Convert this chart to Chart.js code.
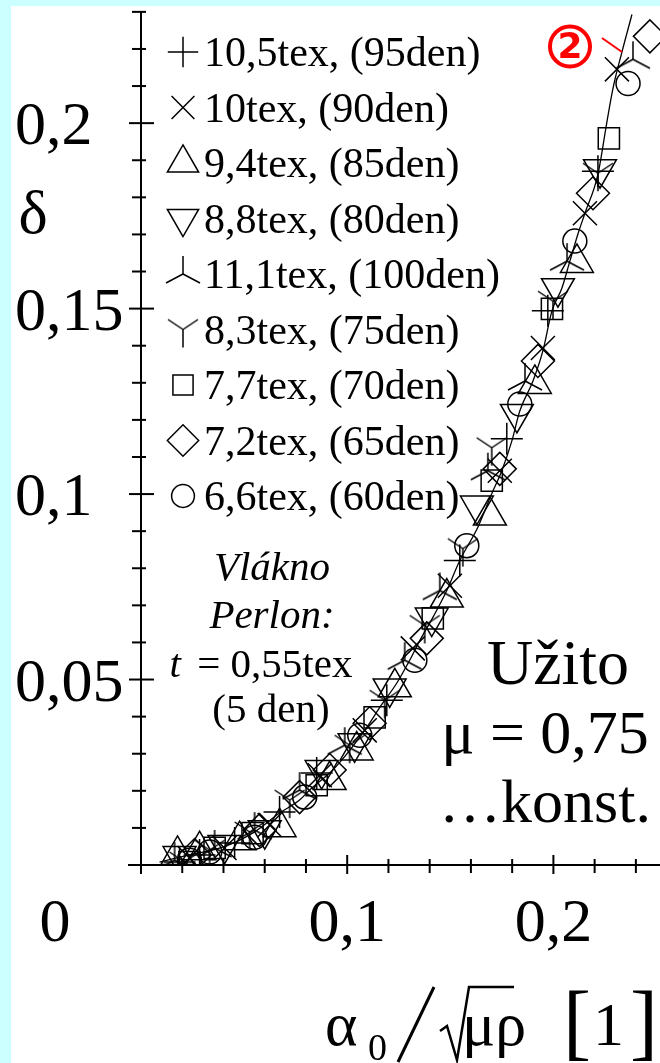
<!DOCTYPE html>
<html>
<head>
<meta charset="utf-8">
<script src="https://cdn.jsdelivr.net/npm/chart.js@4.4.0/dist/chart.umd.min.js"></script>
<style>
  html, body { margin: 0; padding: 0; background: #ccffff; }
  canvas { display: block; }
</style>
</head>
<body>
<canvas id="chart" width="660" height="1063"></canvas>
<script>
// Series names (yarn count)
const seriesLabels = ['10,5tex, (95den)', '10tex, (90den)', '9,4tex, (85den)', '8,8tex, (80den)',
  '11,1tex, (100den)', '8,3tex, (75den)', '7,7tex, (70den)', '7,2tex, (65den)', '6,6tex, (60den)'];

// x = alpha0 / sqrt(mu*rho), y = delta
const tex105X = [0.0187, 0.0284, 0.0454, 0.0672, 0.0852, 0.1192, 0.1546, 0.1774, 0.1973, 0.2216];
const tex105Y = [0.0008, 0.0027, 0.0059, 0.0143, 0.0248, 0.0444, 0.0821, 0.1149, 0.1494, 0.1870];
const tex10X = [0.0235, 0.0405, 0.0624, 0.0867, 0.1085, 0.1318, 0.1498, 0.1740, 0.1949, 0.2153, 0.2308];
const tex10Y = [0.0019, 0.0046, 0.0108, 0.0242, 0.0363, 0.0584, 0.0753, 0.1063, 0.1394, 0.1757, 0.2145];
const tex94X = [0.0177, 0.0284, 0.0478, 0.0672, 0.0915, 0.1046, 0.1231, 0.1483, 0.1692, 0.1910, 0.2114];
const tex94Y = [0.0027, 0.0040, 0.0067, 0.0102, 0.0229, 0.0309, 0.0479, 0.0721, 0.0942, 0.1297, 0.1623];
const tex88X = [0.0187, 0.0405, 0.0600, 0.0876, 0.1036, 0.1206, 0.1410, 0.1629, 0.1823, 0.2022, 0.2226];
const tex88Y = [0.0024, 0.0054, 0.0094, 0.0256, 0.0328, 0.0476, 0.0667, 0.0969, 0.1216, 0.1555, 0.1876];
const tex111X = [0.0163, 0.0357, 0.0551, 0.0769, 0.0988, 0.1279, 0.1449, 0.1682, 0.1862, 0.2066, 0.2386];
const tex111Y = [0.0013, 0.0046, 0.0094, 0.0202, 0.0323, 0.0552, 0.0740, 0.1063, 0.1305, 0.1628, 0.2172];
const tex83X = [0.0211, 0.0333, 0.0527, 0.0721, 0.1012, 0.1182, 0.1376, 0.1561, 0.1701, 0.1998, 0.2216];
const tex83Y = [0.0008, 0.0040, 0.0089, 0.0175, 0.0323, 0.0444, 0.0646, 0.0853, 0.1125, 0.1520, 0.1865];
const tex77X = [0.0235, 0.0357, 0.0541, 0.0852, 0.1133, 0.1415, 0.1701, 0.1993, 0.2269];
const tex77Y = [0.0008, 0.0046, 0.0086, 0.0215, 0.0398, 0.0665, 0.1036, 0.1499, 0.1959];
const tex72X = [0.0260, 0.0575, 0.0769, 0.0915, 0.1109, 0.1386, 0.1740, 0.1925, 0.2192, 0.2468];
const tex72Y = [0.0027, 0.0094, 0.0183, 0.0256, 0.0382, 0.0611, 0.1068, 0.1359, 0.1811, 0.2234];
const tex66X = [0.0235, 0.0333, 0.0551, 0.0794, 0.1061, 0.1328, 0.1580, 0.1837, 0.2104, 0.2362];
const tex66Y = [0.0013, 0.0035, 0.0075, 0.0183, 0.0350, 0.0552, 0.0861, 0.1243, 0.1682, 0.2107];

// fitted curve
const curveX = [0.009, 0.0235, 0.0396, 0.0541, 0.0672, 0.0769, 0.0818, 0.093, 0.1012, 0.1095, 0.1158, 0.124,
  0.1303, 0.1352, 0.1415, 0.1483, 0.1546, 0.1633, 0.1701, 0.175, 0.1799, 0.1837, 0.1901, 0.1949, 0.1993,
  0.2041, 0.208, 0.2119, 0.2153, 0.2216, 0.226, 0.2289, 0.2333, 0.2381];
const curveY = [0.0008, 0.0027, 0.0048, 0.0086, 0.014, 0.0175, 0.0202, 0.0256, 0.0309, 0.0371, 0.0425, 0.049,
  0.0552, 0.0605, 0.0667, 0.074, 0.0821, 0.091, 0.1001, 0.1063, 0.1144, 0.1224, 0.1305, 0.1386, 0.1494,
  0.1555, 0.1628, 0.1701, 0.1757, 0.1862, 0.2005, 0.2094, 0.2193, 0.2293];

// axis ticks
const xMinorTicks = [0.02, 0.04, 0.06, 0.08, 0.1, 0.12, 0.14, 0.16, 0.18, 0.2, 0.22, 0.24];
const xMajorTicks = [0.1, 0.2];
const xTickLabels = ['0,1', '0,2'];
const yMinorTicks = [];
for (let i = 1; i <= 23; i++) yMinorTicks.push(i / 100);
const yMajorTicks = [0.05, 0.1, 0.15, 0.2];
const yTickLabels = ['0,05', '0,1', '0,15', '0,2'];

// custom marks for the two "star" symbols
function starMark(up) {
    const c = document.createElement('canvas');
    c.width = 40; c.height = 40;
    const g = c.getContext('2d');
    g.strokeStyle = '#000';
    g.lineWidth = 1.5;
    g.beginPath();
    if (up) {            // stem up, legs down
        g.moveTo(20, 20); g.lineTo(20, 2);
        g.moveTo(20, 20); g.lineTo(3, 29);
        g.moveTo(20, 20); g.lineTo(37, 29);
    } else {             // arms up, stem down
        g.moveTo(20, 20); g.lineTo(5, 10);
        g.moveTo(20, 20); g.lineTo(35, 10);
        g.moveTo(20, 20); g.lineTo(20, 38);
    }
    g.stroke();
    return c;
}

function pts(xs, ys) {
    return xs.map((x, i) => ({ x: x, y: ys[i] }));
}

const styles = [
    { style: 'cross', r: 16, rot: 0 },
    { style: 'crossRot', r: 17, rot: 0 },
    { style: 'triangle', r: 19, rot: 0 },
    { style: 'triangle', r: 19, rot: 180 },
    { style: starMark(true), r: 18, rot: 0 },
    { style: starMark(false), r: 18, rot: 0 },
    { style: 'rect', r: 15, rot: 0 },
    { style: 'rectRot', r: 16.5, rot: 0 },
    { style: 'circle', r: 12, rot: 0 }
];
const seriesData = [
    pts(tex105X, tex105Y), pts(tex10X, tex10Y), pts(tex94X, tex94Y), pts(tex88X, tex88Y),
    pts(tex111X, tex111Y), pts(tex83X, tex83Y), pts(tex77X, tex77Y), pts(tex72X, tex72Y), pts(tex66X, tex66Y)
];

const datasets = seriesLabels.map((label, i) => ({
    type: 'scatter',
    label: label,
    data: seriesData[i],
    pointStyle: styles[i].style,
    pointRadius: styles[i].r,
    pointRotation: styles[i].rot,
    borderColor: '#000',
    backgroundColor: 'rgba(0,0,0,0)',
    borderWidth: 1.5
}));
datasets.push({
    type: 'line',
    label: '',
    data: pts(curveX, curveY),
    borderColor: '#000',
    borderWidth: 1.3,
    pointRadius: 0,
    fill: false,
    cubicInterpolationMode: 'monotone'
});

const SERIF = '"Liberation Serif", "Times New Roman", serif';

function line(ctx, x1, y1, x2, y2) {
    ctx.beginPath();
    ctx.moveTo(x1, y1);
    ctx.lineTo(x2, y2);
    ctx.stroke();
}

const decor = {
    id: 'decor',
    beforeDraw(chart) {
        const ctx = chart.ctx;
        ctx.save();
        ctx.fillStyle = '#ccffff';
        ctx.fillRect(0, 0, chart.width, chart.height);
        ctx.fillStyle = '#ffffff';
        ctx.fillRect(11, 6, chart.width - 11, chart.height - 6);
        ctx.restore();
    },
    beforeDatasetsDraw(chart) {
        const ctx = chart.ctx;
        const xs = chart.scales.x, ys = chart.scales.y;
        const x0 = xs.getPixelForValue(0), y0 = ys.getPixelForValue(0);
        ctx.save();
        ctx.strokeStyle = '#000';
        ctx.lineWidth = 2;
        line(ctx, x0 - 13, y0, chart.width, y0);
        line(ctx, x0, ys.getPixelForValue(0.23), x0, y0 + 9);
        xMinorTicks.forEach(v => {
            const p = xs.getPixelForValue(v);
            if (xMajorTicks.includes(v)) line(ctx, p, y0 - 10, p, y0 + 9);
            else line(ctx, p, y0 - 6, p, y0 + 8);
        });
        yMinorTicks.forEach(v => {
            const p = ys.getPixelForValue(v);
            if (yMajorTicks.some(m => Math.abs(m - v) < 1e-9)) line(ctx, x0 - 12, p, x0 + 13, p);
            else line(ctx, x0 - 9, p, x0 + 5, p);
        });
        ctx.restore();
    },
    afterDraw(chart) {
        const ctx = chart.ctx;
        const xs = chart.scales.x, ys = chart.scales.y;
        ctx.save();
        ctx.fillStyle = '#000';
        ctx.strokeStyle = '#000';

        // tick labels
        ctx.font = '62px ' + SERIF;
        ctx.textAlign = 'left';
        ctx.textBaseline = 'alphabetic';
        yMajorTicks.forEach((v, i) => {
            ctx.fillText(yTickLabels[i], 15, ys.getPixelForValue(v) + 21);
        });
        ctx.textAlign = 'center';
        xMajorTicks.forEach((v, i) => {
            ctx.fillText(xTickLabels[i], xs.getPixelForValue(v), 941);
        });
        ctx.fillText('0', 55, 941);

        // y title
        ctx.fillText('δ', 33, 233);

        // x title  alpha0 / sqrt(mu rho)  [1]
        ctx.textAlign = 'left';
        ctx.font = '62px ' + SERIF;
        ctx.fillText('α', 325, 1045);
        ctx.font = '38px ' + SERIF;
        ctx.fillText('0', 368, 1060);
        ctx.lineWidth = 3;
        line(ctx, 398, 1062, 434, 987);
        ctx.lineWidth = 2.5;
        ctx.beginPath();
        ctx.moveTo(440, 1031);
        ctx.lineTo(447, 1026);
        ctx.lineTo(457, 1060);
        ctx.lineTo(469, 987);
        ctx.lineTo(514, 987);
        ctx.stroke();
        ctx.font = '62px ' + SERIF;
        ctx.fillText('μρ', 462, 1045);
        ctx.font = '84px ' + SERIF;
        ctx.fillText('[', 563, 1050);
        ctx.fillText(']', 630, 1050);
        ctx.font = '62px ' + SERIF;
        ctx.fillText('1', 593, 1045);

        // legend
        const helpers = Chart.helpers;
        ctx.font = '42px ' + SERIF;
        ctx.textAlign = 'left';
        chart.data.datasets.forEach((ds, i) => {
            if (ds.type !== 'scatter') return;
            const cy = 52 + i * 55.5;
            ctx.strokeStyle = '#000';
            ctx.fillStyle = 'rgba(0,0,0,0)';
            ctx.lineWidth = 1.5;
            helpers.drawPoint(ctx, {
                pointStyle: ds.pointStyle,
                radius: ds.pointRadius * 0.95,
                rotation: ds.pointRotation,
                borderWidth: 1.5
            }, 183, cy);
            ctx.fillStyle = '#000';
            ctx.fillText(ds.label, 204, cy + 14);
        });

        // fibre note
        const F = 41;
        ctx.textAlign = 'center';
        ctx.font = 'italic ' + F + 'px ' + SERIF;
        ctx.fillText('Vlákno', 272, 580);
        ctx.fillText('Perlon:', 272, 628);
        const wT = ctx.measureText('t').width;
        ctx.font = F + 'px ' + SERIF;
        const rest = ' = 0,55tex';
        const wR = ctx.measureText(rest).width;
        const sx = 264 - (wT + wR) / 2;
        ctx.textAlign = 'left';
        ctx.font = 'italic ' + F + 'px ' + SERIF;
        ctx.fillText('t', sx - 6, 677);
        ctx.font = F + 'px ' + SERIF;
        ctx.fillText(rest, sx + wT, 677);
        ctx.textAlign = 'center';
        ctx.fillText('(5 den)', 271, 722);

        // friction note
        ctx.font = '64px ' + SERIF;
        ctx.fillText('Užito', 558, 684);
        ctx.font = '62px ' + SERIF;
        ctx.fillText('μ = 0,75', 545, 753);
        ctx.fillText('…konst.', 545, 822);

        // red marker (2)
        ctx.strokeStyle = '#ff0000';
        ctx.fillStyle = '#ff0000';
        ctx.lineWidth = 4;
        ctx.beginPath();
        ctx.arc(570, 46.5, 20, 0, Math.PI * 2);
        ctx.stroke();
        ctx.lineWidth = 2;
        line(ctx, 602, 38, 622, 52);
        ctx.font = 'bold 36px "DejaVu Sans", sans-serif';
        ctx.textAlign = 'center';
        ctx.textBaseline = 'middle';
        ctx.fillText('2', 570, 49);
        ctx.restore();
    }
};

new Chart(document.getElementById('chart').getContext('2d'), {
    type: 'scatter',
    data: { datasets: datasets },
    options: {
        responsive: false,
        animation: false,
        devicePixelRatio: 1,
        layout: { autoPadding: false, padding: { left: 141, right: 0, top: 0, bottom: 198 } },
        scales: {
            x: { type: 'linear', min: 0, max: 0.2517, display: false },
            y: { type: 'linear', min: 0, max: 0.2332, display: false }
        },
        plugins: {
            legend: { display: false },
            tooltip: { enabled: false }
        }
    },
    plugins: [decor]
});
</script>
</body>
</html>
